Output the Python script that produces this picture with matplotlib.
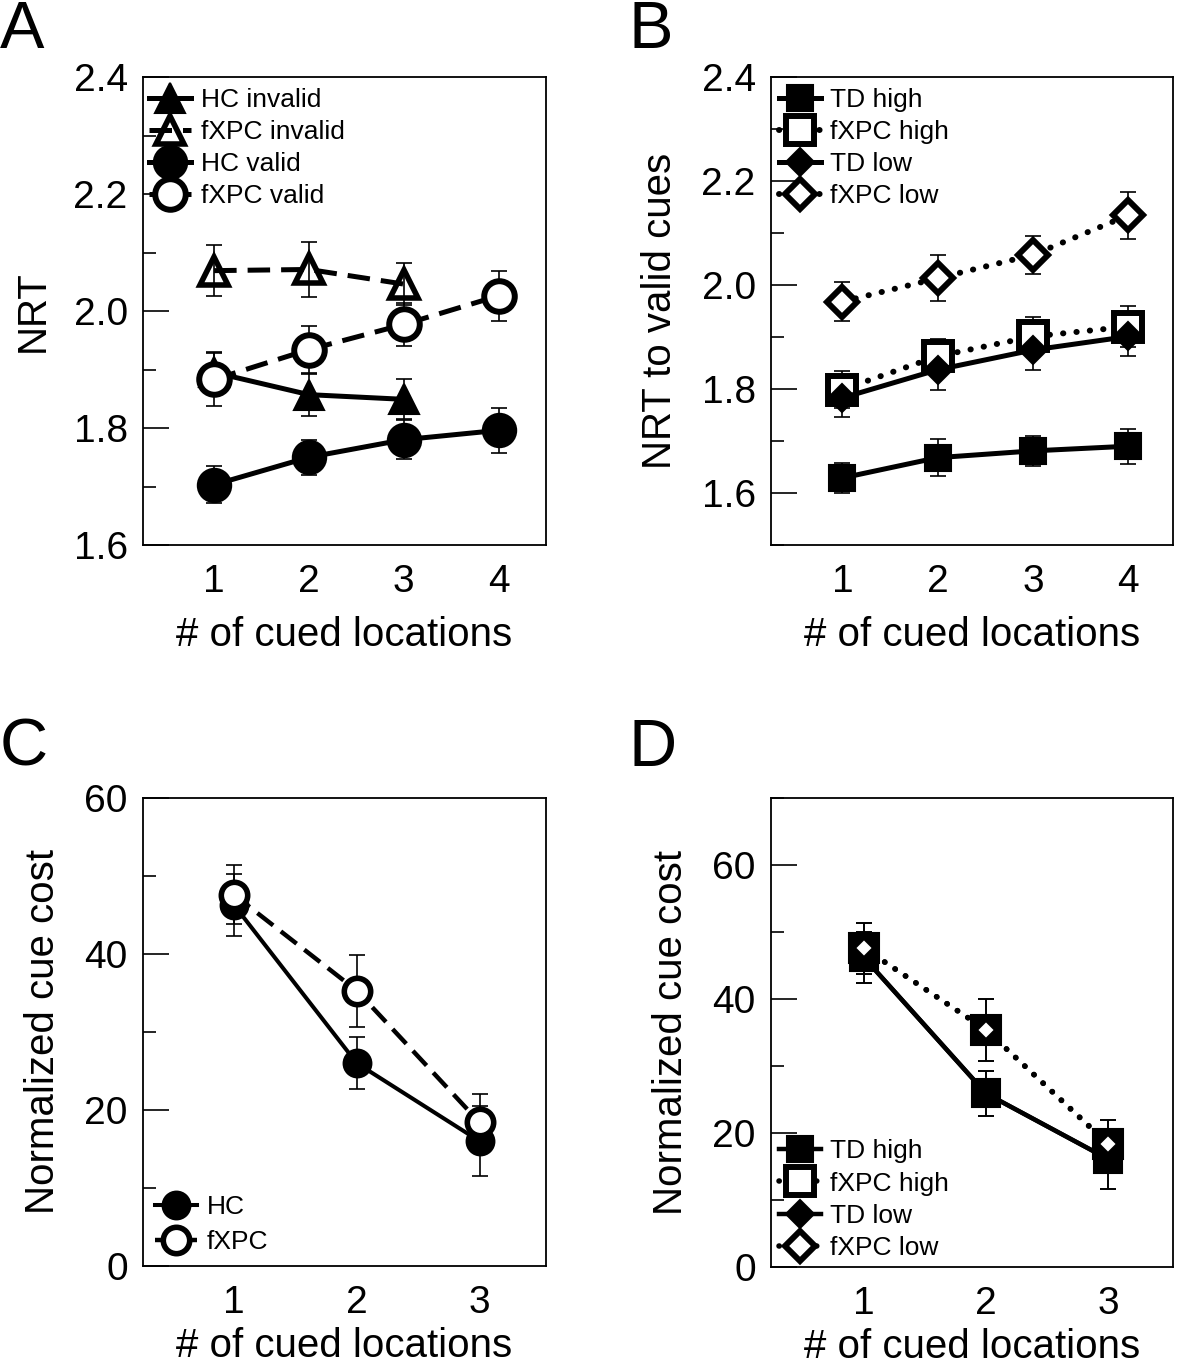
import matplotlib
matplotlib.use("Agg")
import matplotlib.pyplot as plt
import numpy as np
from matplotlib.ticker import MultipleLocator, FormatStrFormatter
from matplotlib.lines import Line2D

plt.rcParams['font.family'] = ['Liberation Sans', 'DejaVu Sans']

# ---------------- data ----------------
x4 = [1, 2, 3, 4]
x3 = [1, 2, 3]

# Panel A (NRT)
a_hc_inv = [1.895, 1.857, 1.849]
a_hc_inv_err = [0.035, 0.037, 0.034]
a_fx_inv = [2.069, 2.071, 2.046]
a_fx_inv_err = [0.044, 0.047, 0.036]
a_hc_val = [1.703, 1.750, 1.780, 1.796]
a_hc_val_err = [0.032, 0.030, 0.033, 0.038]
a_fx_val = [1.883, 1.934, 1.977, 2.026]
a_fx_val_err = [0.045, 0.041, 0.037, 0.043]

# Panel B (NRT to valid cues)
b_td_high = [1.629, 1.668, 1.681, 1.690]
b_td_high_err = [0.029, 0.035, 0.029, 0.034]
b_fx_high = [1.799, 1.863, 1.901, 1.920]
b_fx_high_err = [0.035, 0.033, 0.038, 0.040]
b_td_low = [1.783, 1.837, 1.875, 1.901]
b_td_low_err = [0.036, 0.038, 0.038, 0.038]
b_fx_low = [1.968, 2.013, 2.058, 2.134]
b_fx_low_err = [0.038, 0.044, 0.037, 0.045]

# Panel C (normalized cue cost)
c_hc = [46.3, 26.0, 16.0]
c_hc_err = [4.0, 3.3, 4.5]
c_fx = [47.6, 35.3, 18.4]
c_fx_err = [3.8, 4.6, 3.7]

# Panel D (normalized cue cost)
d_td_high = [46.2, 25.9, 16.1]
d_td_high_err = [3.8, 3.4, 4.5]
d_fx_high = [47.6, 35.4, 18.4]
d_fx_high_err = [3.8, 4.6, 3.6]
d_td_low = [46.2, 25.9, 16.1]
d_td_low_err = [3.8, 3.4, 4.5]
d_fx_low = [47.6, 35.4, 18.3]
d_fx_low_err = [3.8, 4.6, 3.6]

W, H = 1200, 1367
fig = plt.figure(figsize=(W / 100, H / 100), dpi=100)

def frac(l, t, r, b):
    return [l / W, 1 - b / H, (r - l) / W, (b - t) / H]

axA = fig.add_axes(frac(143, 77, 546, 545))
axB = fig.add_axes(frac(771, 77, 1173, 545))
axC = fig.add_axes(frac(143, 798, 546, 1266))
axD = fig.add_axes(frac(771, 798, 1173, 1267))

TICKFS = 28
LABFS = 29
LEGFS = 19

def style(ax, major, minor, fmt, labelpad=11):
    for s in ax.spines.values():
        s.set_linewidth(1.3)
    ax.yaxis.set_major_locator(MultipleLocator(major))
    ax.yaxis.set_minor_locator(MultipleLocator(minor))
    ax.yaxis.set_major_formatter(FormatStrFormatter(fmt))
    ax.tick_params(axis='y', which='major', direction='in', length=19, width=1.2,
                   labelsize=TICKFS, pad=11)
    ax.tick_params(axis='y', which='minor', direction='in', length=9.5, width=1.2)
    ax.tick_params(axis='x', which='both', length=0, labelsize=TICKFS, pad=14)
    ax.set_xlabel('# of cued locations', fontsize=LABFS, labelpad=labelpad)

ERR = dict(fmt='none', ecolor='black', elinewidth=1.2, capsize=6, capthick=1.2, zorder=1.5)

DASH = (0, (4.5, 2.2))
DOT = (0, (0.05, 2.2))

def series(ax, x, y, e, marker, ms, mfc, ls, lw, mew, label, zorder):
    ax.errorbar(x, y, yerr=e, **ERR)
    cap = 'round' if ls == DOT else 'butt'
    line, = ax.plot(x, y, color='black', marker=marker, ms=ms, mfc=mfc, mec='black',
                    mew=mew, ls=ls, lw=lw, label=label, zorder=zorder,
                    dash_capstyle=cap)
    return line

LEGKW = dict(frameon=False, fontsize=LEGFS, numpoints=1, handlelength=1.6,
             handletextpad=0.35, borderpad=0, borderaxespad=0)

# ---- Panel A ----
series(axA, x4[:3], a_hc_inv, a_hc_inv_err, '^', 22, 'black', '-', 3.6, 1.5, 'HC invalid', 3)
series(axA, x4[:3], a_fx_inv, a_fx_inv_err, '^', 20, 'none', DASH, 3.6, 4.0, 'fXPC invalid', 4)
series(axA, x4, a_hc_val, a_hc_val_err, 'o', 24, 'black', '-', 3.6, 1.5, 'HC valid', 5)
series(axA, x4, a_fx_val, a_fx_val_err, 'o', 22, 'white', DASH, 3.6, 4.3, 'fXPC valid', 6)
axA.set_xlim(0.25, 4.5)
axA.set_ylim(1.6, 2.4)
axA.set_xticks(x4)
style(axA, 0.2, 0.1, '%.1f')
axA.set_ylabel('NRT', fontsize=LABFS, labelpad=16)
axA.legend(loc='upper left', bbox_to_anchor=(0.015, 0.977), labelspacing=0.31, **LEGKW)

# ---- Panel B ----
series(axB, x4, b_td_high, b_td_high_err, 's', 19, 'black', '-', 3.6, 1.5, 'TD high', 3)
series(axB, x4, b_fx_high, b_fx_high_err, 's', 20, 'white', DOT, 4.3, 4.3, 'fXPC high', 4)
series(axB, x4, b_td_low, b_td_low_err, 'D', 14, 'black', '-', 3.6, 1.5, 'TD low', 5)
series(axB, x4, b_fx_low, b_fx_low_err, 'D', 15, 'white', DOT, 4.3, 4.3, 'fXPC low', 6)
axB.set_xlim(0.25, 4.47)
axB.set_ylim(1.5, 2.4)
axB.set_xticks(x4)
style(axB, 0.2, 0.1, '%.1f')
axB.set_ylabel('NRT to valid cues', fontsize=LABFS, labelpad=16)
axB.legend(loc='upper left', bbox_to_anchor=(0.02, 0.977), labelspacing=0.31, **LEGKW)

# ---- Panel C ----
series(axC, x3, c_hc, c_hc_err, 'o', 20, 'black', '-', 2.9, 1.5, 'HC', 3)
series(axC, x3, c_fx, c_fx_err, 'o', 19, 'white', DASH, 3.2, 4.0, 'fXPC', 4)
axC.set_xlim(0.26, 3.54)
axC.set_ylim(0, 60)
axC.set_xticks(x3)
style(axC, 20, 10, '%d', labelpad=4)
axC.set_ylabel('Normalized cue cost', fontsize=LABFS, labelpad=16)
axC.legend(loc='lower left', bbox_to_anchor=(0.03, 0.026), labelspacing=0.42, **LEGKW)

# ---- Panel D ----
series(axD, x3, d_td_high, d_td_high_err, 's', 20, 'black', '-', 3.2, 1.5, 'TD high', 3)
series(axD, x3, d_fx_high, d_fx_high_err, 's', 22, 'black', DOT, 4.0, 1.5, '_nolegend_', 4)
series(axD, x3, d_td_low, d_td_low_err, 'D', 13, 'black', '-', 3.2, 1.5, 'TD low', 5)
series(axD, x3, d_fx_low, d_fx_low_err, 'D', 9, 'white', DOT, 4.0, 1.5, 'fXPC low', 6)
axD.set_xlim(0.24, 3.53)
axD.set_ylim(0, 70)
axD.set_xticks(x3)
style(axD, 20, 10, '%d', labelpad=4)
axD.set_ylabel('Normalized cue cost', fontsize=LABFS, labelpad=16)
hD = [
    Line2D([], [], color='black', marker='s', ms=19, mfc='black', mew=1.5, ls='-', lw=3.2),
    Line2D([], [], color='black', marker='s', ms=20, mfc='white', mew=4.3, ls=DOT, lw=4.0,
           dash_capstyle='round'),
    Line2D([], [], color='black', marker='D', ms=14, mfc='black', mew=1.5, ls='-', lw=3.2),
    Line2D([], [], color='black', marker='D', ms=15, mfc='white', mew=4.3, ls=DOT, lw=4.0,
           dash_capstyle='round'),
]
axD.legend(hD, ['TD high', 'fXPC high', 'TD low', 'fXPC low'], loc='lower left',
           bbox_to_anchor=(0.02, 0.015), labelspacing=0.31, **LEGKW)

for ax, letter, (px, py) in [(axA, 'A', (0, 0)), (axB, 'B', (628, 0)),
                             (axC, 'C', (0, 718)), (axD, 'D', (628, 718))]:
    fig.text(px / W, 1 - py / H, letter, fontsize=48, ha='left', va='top')

fig.savefig('out.png', dpi=100)
